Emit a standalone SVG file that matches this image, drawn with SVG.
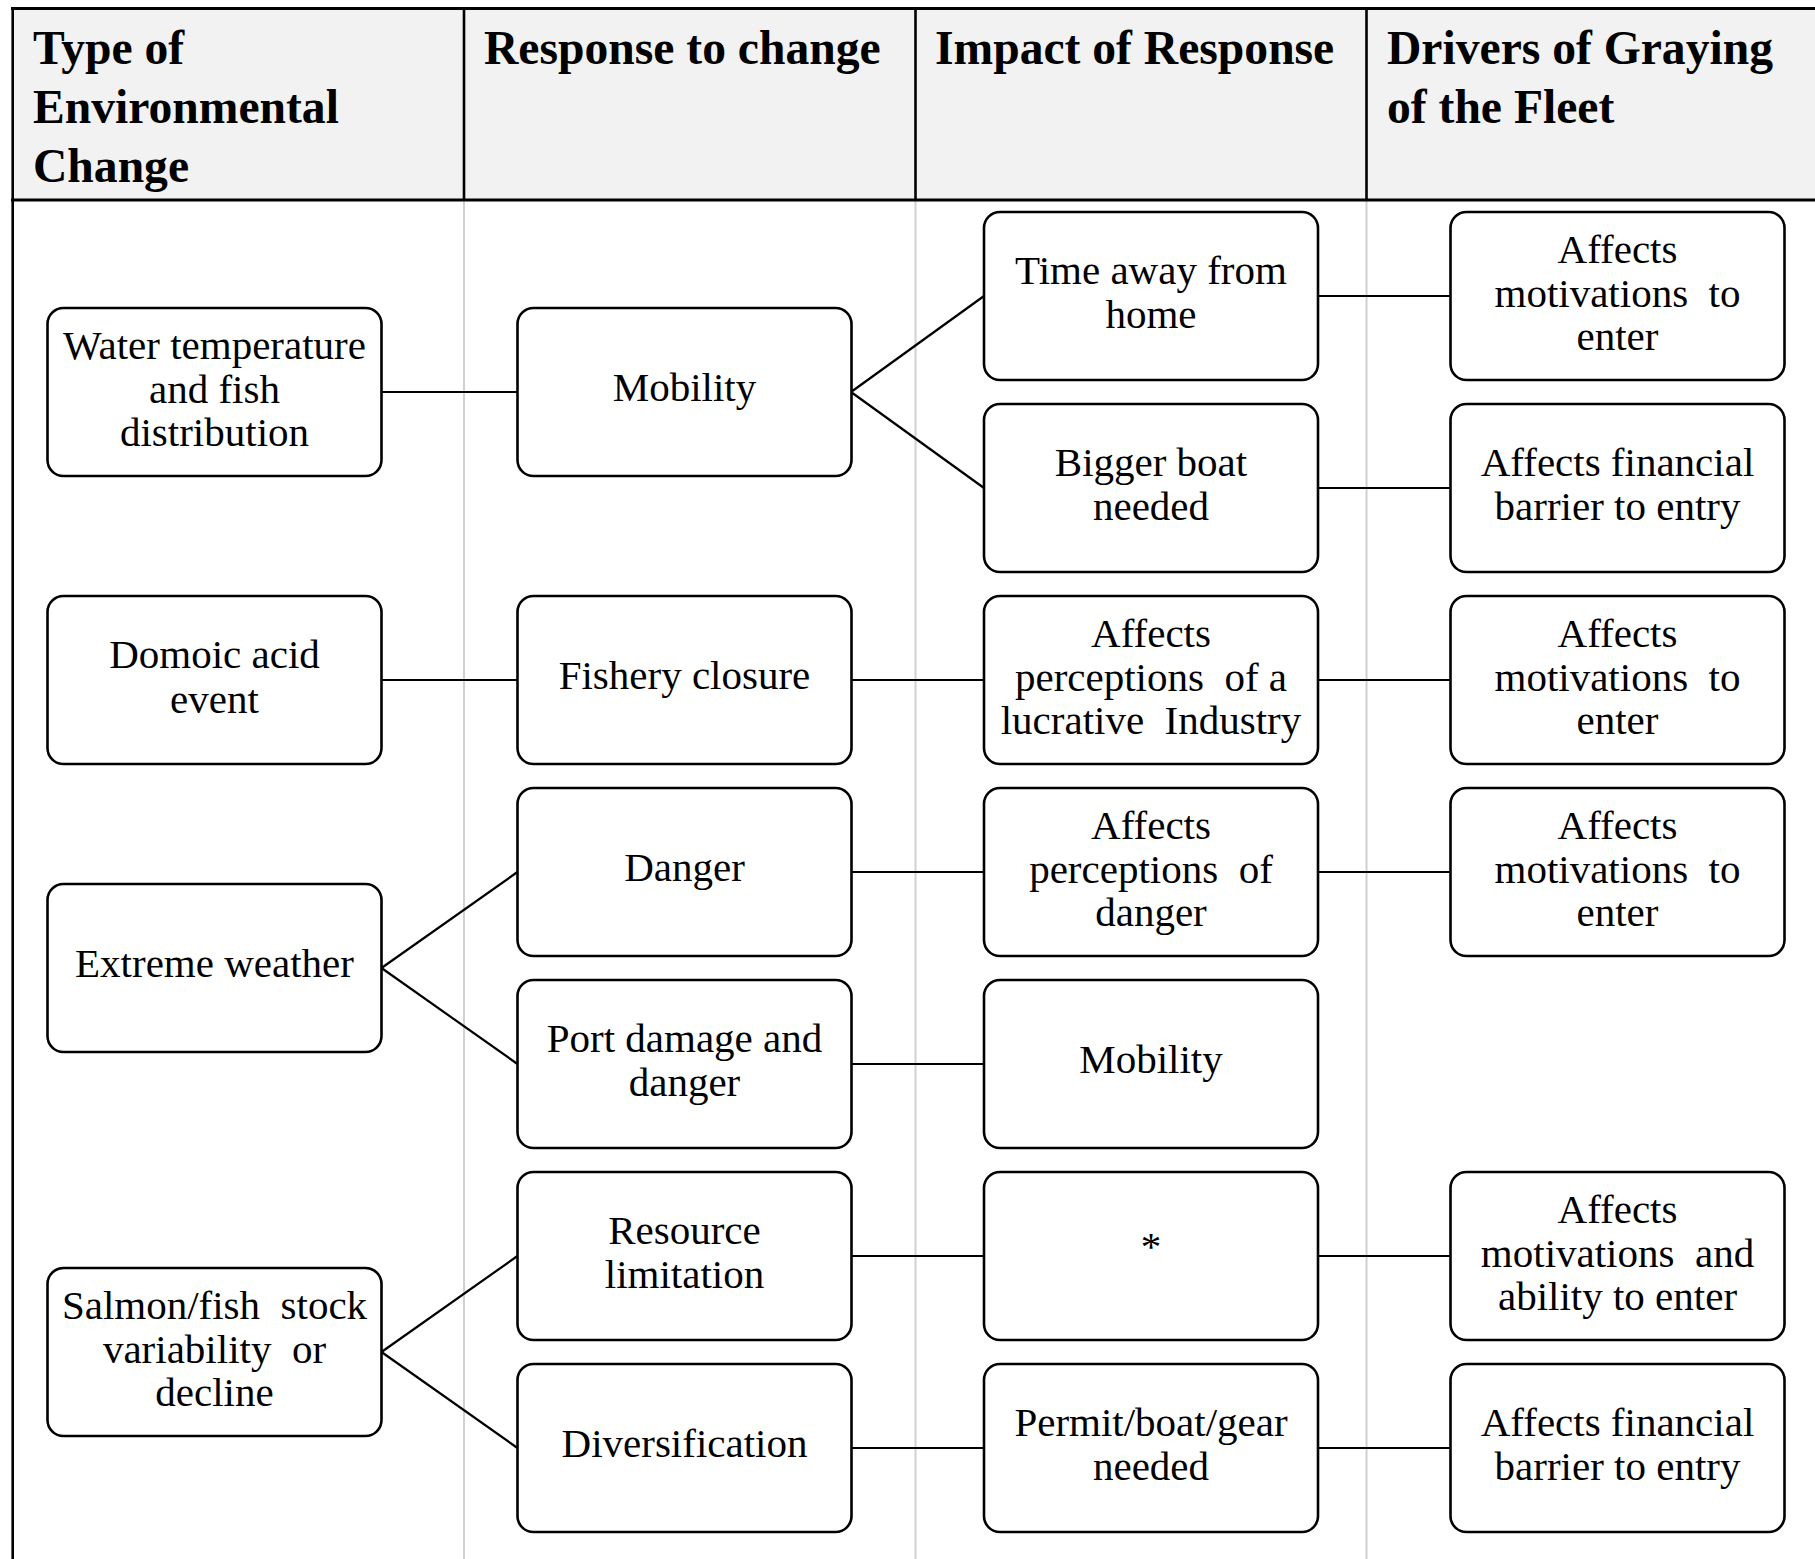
<svg xmlns="http://www.w3.org/2000/svg" width="1815" height="1559" viewBox="0 0 1815 1559">
<style>
.hd{font-family:"Liberation Serif","Times New Roman",serif;font-weight:bold;font-size:47.6px;fill:#000}
.nb{fill:#fff;stroke:#000;stroke-width:2.6}
.nt{font-family:"Liberation Serif","Times New Roman",serif;font-size:41px;fill:#000;text-anchor:middle;dominant-baseline:central}
.cn{stroke:#000;stroke-width:2.2;fill:none}
.gd{stroke:#d0d0d0;stroke-width:2}
.bd{stroke:#000;stroke-width:2.6}
</style>
<rect x="0" y="0" width="1815" height="1559" fill="#fff"/>
<g id="table">
<rect x="12.5" y="8.5" width="1802.5" height="191.5" fill="#f2f2f2"/>
<line class="gd" x1="464" y1="200" x2="464" y2="1559"/>
<line class="gd" x1="915.5" y1="200" x2="915.5" y2="1559"/>
<line class="gd" x1="1366.5" y1="200" x2="1366.5" y2="1559"/>
<line class="bd" x1="464" y1="8" x2="464" y2="200"/>
<line class="bd" x1="915.5" y1="8" x2="915.5" y2="200"/>
<line class="bd" x1="1366.5" y1="8" x2="1366.5" y2="200"/>
<line x1="11" y1="8.5" x2="1815" y2="8.5" stroke="#000" stroke-width="3"/>
<line x1="11" y1="200" x2="1815" y2="200" stroke="#000" stroke-width="3"/>
<line class="bd" x1="12.7" y1="7" x2="12.7" y2="1559"/>
</g>
<g id="headers">
<text class="hd" x="33" y="64">Type of</text>
<text class="hd" x="33" y="123">Environmental</text>
<text class="hd" x="33" y="182">Change</text>
<text class="hd" x="484" y="64">Response to change</text>
<text class="hd" x="935" y="64">Impact of Response</text>
<text class="hd" x="1387" y="64">Drivers of Graying</text>
<text class="hd" x="1387" y="123">of the Fleet</text>
</g>
<g id="connectors">
<line class="cn" x1="381.5" y1="392" x2="517.5" y2="392"/>
<line class="cn" x1="851" y1="392" x2="984" y2="296"/>
<line class="cn" x1="851" y1="392" x2="984" y2="488"/>
<line class="cn" x1="1318" y1="296" x2="1450.5" y2="296"/>
<line class="cn" x1="1318" y1="488" x2="1450.5" y2="488"/>
<line class="cn" x1="381.5" y1="680" x2="517.5" y2="680"/>
<line class="cn" x1="851" y1="680" x2="984" y2="680"/>
<line class="cn" x1="1318" y1="680" x2="1450.5" y2="680"/>
<line class="cn" x1="381.5" y1="968" x2="517.5" y2="872"/>
<line class="cn" x1="381.5" y1="968" x2="517.5" y2="1064"/>
<line class="cn" x1="851" y1="872" x2="984" y2="872"/>
<line class="cn" x1="1318" y1="872" x2="1450.5" y2="872"/>
<line class="cn" x1="851" y1="1064" x2="984" y2="1064"/>
<line class="cn" x1="381.5" y1="1352" x2="517.5" y2="1256"/>
<line class="cn" x1="381.5" y1="1352" x2="517.5" y2="1448"/>
<line class="cn" x1="851" y1="1256" x2="984" y2="1256"/>
<line class="cn" x1="1318" y1="1256" x2="1450.5" y2="1256"/>
<line class="cn" x1="851" y1="1448" x2="984" y2="1448"/>
<line class="cn" x1="1318" y1="1448" x2="1450.5" y2="1448"/>
</g>
<g id="n-water">
<rect class="nb" x="47.5" y="308" width="334" height="168" rx="16"/>
<text class="nt" x="214.5" y="345">Water temperature</text>
<text class="nt" x="214.5" y="389">and fish</text>
<text class="nt" x="214.5" y="432">distribution</text>
</g>
<g id="n-mobility1">
<rect class="nb" x="517.5" y="308" width="334" height="168" rx="16"/>
<text class="nt" x="684.5" y="387">Mobility</text>
</g>
<g id="n-timeaway">
<rect class="nb" x="984" y="212" width="334" height="168" rx="16"/>
<text class="nt" x="1151" y="270">Time away from</text>
<text class="nt" x="1151" y="314">home</text>
</g>
<g id="n-motiv1">
<rect class="nb" x="1450.5" y="212" width="334" height="168" rx="16"/>
<text class="nt" x="1617.5" y="249">Affects</text>
<text class="nt" x="1617.5" y="293" xml:space="preserve">motivations  to</text>
<text class="nt" x="1617.5" y="336">enter</text>
</g>
<g id="n-biggerboat">
<rect class="nb" x="984" y="404" width="334" height="168" rx="16"/>
<text class="nt" x="1151" y="462">Bigger boat</text>
<text class="nt" x="1151" y="506">needed</text>
</g>
<g id="n-financial1">
<rect class="nb" x="1450.5" y="404" width="334" height="168" rx="16"/>
<text class="nt" x="1617.5" y="462">Affects financial</text>
<text class="nt" x="1617.5" y="506">barrier to entry</text>
</g>
<g id="n-domoic">
<rect class="nb" x="47.5" y="596" width="334" height="168" rx="16"/>
<text class="nt" x="214.5" y="654">Domoic acid</text>
<text class="nt" x="214.5" y="699">event</text>
</g>
<g id="n-closure">
<rect class="nb" x="517.5" y="596" width="334" height="168" rx="16"/>
<text class="nt" x="684.5" y="675">Fishery closure</text>
</g>
<g id="n-lucrative">
<rect class="nb" x="984" y="596" width="334" height="168" rx="16"/>
<text class="nt" x="1151" y="633">Affects</text>
<text class="nt" x="1151" y="677" xml:space="preserve">perceptions  of a</text>
<text class="nt" x="1151" y="720" xml:space="preserve">lucrative  Industry</text>
</g>
<g id="n-motiv2">
<rect class="nb" x="1450.5" y="596" width="334" height="168" rx="16"/>
<text class="nt" x="1617.5" y="633">Affects</text>
<text class="nt" x="1617.5" y="677" xml:space="preserve">motivations  to</text>
<text class="nt" x="1617.5" y="720">enter</text>
</g>
<g id="n-danger">
<rect class="nb" x="517.5" y="788" width="334" height="168" rx="16"/>
<text class="nt" x="684.5" y="867">Danger</text>
</g>
<g id="n-percdanger">
<rect class="nb" x="984" y="788" width="334" height="168" rx="16"/>
<text class="nt" x="1151" y="825">Affects</text>
<text class="nt" x="1151" y="869" xml:space="preserve">perceptions  of</text>
<text class="nt" x="1151" y="912">danger</text>
</g>
<g id="n-motiv3">
<rect class="nb" x="1450.5" y="788" width="334" height="168" rx="16"/>
<text class="nt" x="1617.5" y="825">Affects</text>
<text class="nt" x="1617.5" y="869" xml:space="preserve">motivations  to</text>
<text class="nt" x="1617.5" y="912">enter</text>
</g>
<g id="n-weather">
<rect class="nb" x="47.5" y="884" width="334" height="168" rx="16"/>
<text class="nt" x="214.5" y="963">Extreme weather</text>
</g>
<g id="n-port">
<rect class="nb" x="517.5" y="980" width="334" height="168" rx="16"/>
<text class="nt" x="684.5" y="1038">Port damage and</text>
<text class="nt" x="684.5" y="1082">danger</text>
</g>
<g id="n-mobility2">
<rect class="nb" x="984" y="980" width="334" height="168" rx="16"/>
<text class="nt" x="1151" y="1059">Mobility</text>
</g>
<g id="n-resource">
<rect class="nb" x="517.5" y="1172" width="334" height="168" rx="16"/>
<text class="nt" x="684.5" y="1230">Resource</text>
<text class="nt" x="684.5" y="1274">limitation</text>
</g>
<g id="n-star">
<rect class="nb" x="984" y="1172" width="334" height="168" rx="16"/>
<text class="nt" x="1151" y="1246">*</text>
</g>
<g id="n-ability">
<rect class="nb" x="1450.5" y="1172" width="334" height="168" rx="16"/>
<text class="nt" x="1617.5" y="1209">Affects</text>
<text class="nt" x="1617.5" y="1253" xml:space="preserve">motivations  and</text>
<text class="nt" x="1617.5" y="1296">ability to enter</text>
</g>
<g id="n-salmon">
<rect class="nb" x="47.5" y="1268" width="334" height="168" rx="16"/>
<text class="nt" x="214.5" y="1305" xml:space="preserve">Salmon/fish  stock</text>
<text class="nt" x="214.5" y="1349" xml:space="preserve">variability  or</text>
<text class="nt" x="214.5" y="1392">decline</text>
</g>
<g id="n-diversification">
<rect class="nb" x="517.5" y="1364" width="334" height="168" rx="16"/>
<text class="nt" x="684.5" y="1443">Diversification</text>
</g>
<g id="n-permit">
<rect class="nb" x="984" y="1364" width="334" height="168" rx="16"/>
<text class="nt" x="1151" y="1422">Permit/boat/gear</text>
<text class="nt" x="1151" y="1466">needed</text>
</g>
<g id="n-financial2">
<rect class="nb" x="1450.5" y="1364" width="334" height="168" rx="16"/>
<text class="nt" x="1617.5" y="1422">Affects financial</text>
<text class="nt" x="1617.5" y="1466">barrier to entry</text>
</g>
</svg>
